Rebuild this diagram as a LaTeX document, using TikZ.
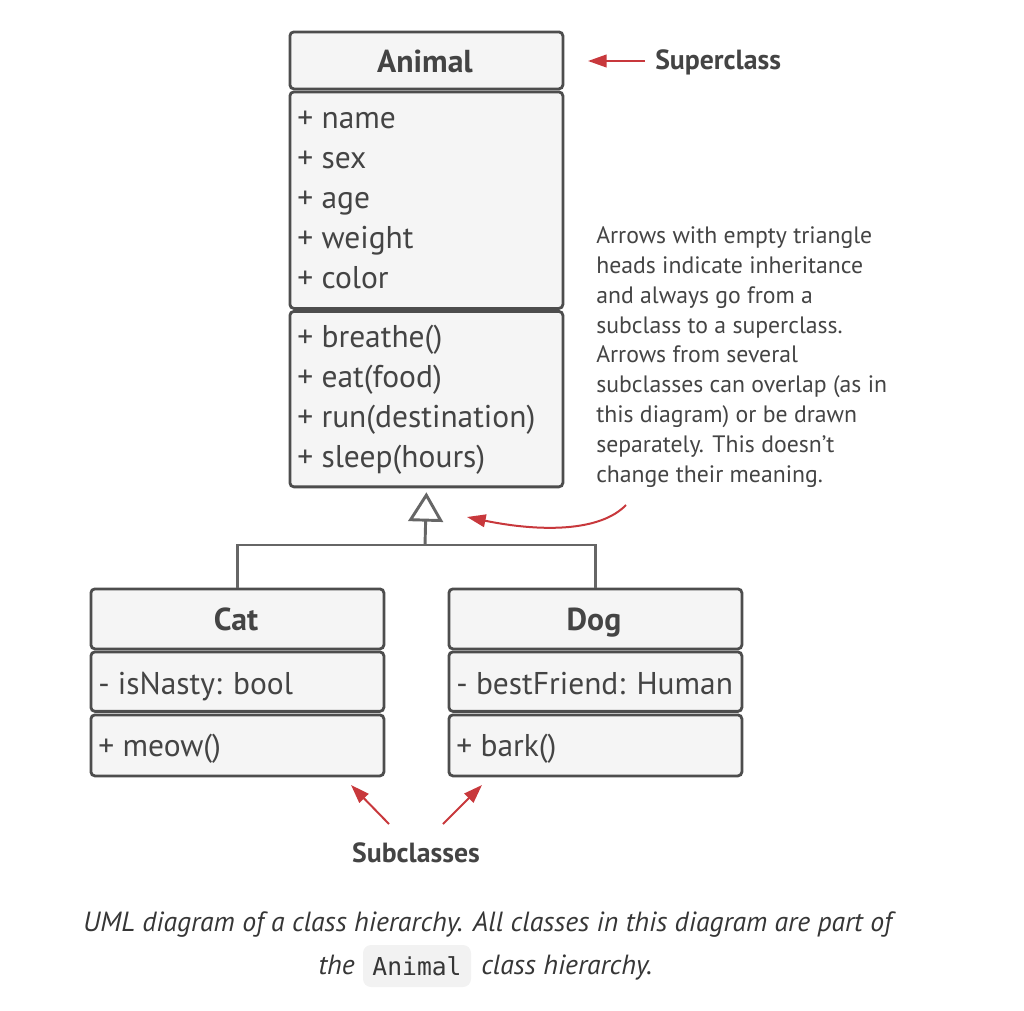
\documentclass[tikz,border=0pt]{standalone}
\usepackage{fontspec}
\setmainfont{PT Sans}
\setmonofont{DejaVu Sans Mono}
\usetikzlibrary{arrows.meta}
\definecolor{boxline}{HTML}{4D4D4D}
\definecolor{boxfill}{HTML}{F5F5F5}
\definecolor{txt}{HTML}{444444}
\definecolor{conn}{HTML}{666666}
\definecolor{redarrow}{HTML}{C8383C}
\definecolor{codebg}{HTML}{F2F2F2}
\definecolor{captxt}{HTML}{363636}
\begin{document}
\begin{tikzpicture}[x=0.75pt,y=-0.75pt,
  compart/.style={draw=boxline, fill=boxfill, line width=2.1pt, rounded corners=3pt, anchor=north west, inner sep=0pt},
  member/.style={font=\fontsize{23.6}{30}\selectfont, text=txt, inner sep=0pt, anchor=base west},
  clstitle/.style={font=\fontsize{23.8}{30}\selectfont\bfseries, text=txt, inner sep=0pt, anchor=base},
  lbl/.style={font=\fontsize{20.8}{24}\selectfont\bfseries, text=txt, inner sep=0pt},
  notetxt/.style={font=\fontsize{17.8}{22.35}\selectfont, text=txt, inner sep=0pt, align=left, anchor=base west},
  captext/.style={font=\fontsize{20.8}{24}\selectfont\itshape, text=captxt, inner sep=0pt},
  connline/.style={draw=conn, line width=2.2pt},
  redarr/.style={draw=redarrow, line width=1.5pt, -{Triangle[length=14pt, width=9.5pt]}}
]
\useasboundingbox (0,0) rectangle (1024,1010);

% ---- Animal
\node[compart, minimum width=204.75pt, minimum height=42.75pt] (animalHead) at (288.5,30.5) {};
\node[compart, minimum width=204.75pt, minimum height=162.4pt] (animalAttr) at (288.5,90.5) {};
\node[compart, minimum width=204.75pt, minimum height=131.6pt] (animalOps) at (288.5,310) {};
\node[clstitle] (animalName) at (425,72) {Animal};
\node[member] (aName) at (297,128) {+ name};
\node[member] (aSex) at (297,168) {+ sex};
\node[member] (aAge) at (297,208) {+ age};
\node[member] (aWeight) at (297,248) {+ weight};
\node[member] (aColor) at (297,288) {+ color};
\node[member] (aBreathe) at (297,347) {+ breathe()};
\node[member] (aEat) at (297,387) {+ eat(food)};
\node[member] (aRun) at (297,427) {+ run(destination)};
\node[member] (aSleep) at (297,467) {+ sleep(hours)};

% ---- Cat
\node[compart, minimum width=219.75pt, minimum height=45pt] (catHead) at (89.5,587.5) {};
\node[compart, minimum width=219.75pt, minimum height=44.6pt] (catAttr) at (89.5,650.5) {};
\node[compart, minimum width=219.75pt, minimum height=45.75pt] (catOps) at (89.5,713.5) {};
\node[clstitle] (catName) at (236,630) {Cat};
\node[member] (cNasty) at (98,694) {- isNasty: bool};
\node[member] (cMeow) at (98,756) {+ meow()};

% ---- Dog
\node[compart, minimum width=219.75pt, minimum height=45pt] (dogHead) at (447.5,587.5) {};
\node[compart, minimum width=219.75pt, minimum height=44.6pt] (dogAttr) at (447.5,650.5) {};
\node[compart, minimum width=219.75pt, minimum height=45.75pt] (dogOps) at (447.5,713.5) {};
\node[clstitle] (dogName) at (594,630) {Dog};
\node[member] (dFriend) at (456,694) {- bestFriend: Human};
\node[member] (dBark) at (456,756) {+ bark()};

% ---- inheritance
\coordinate (junction) at (425,545);
\draw[connline] (catHead.north) |- (junction) -| (dogHead.north);
\draw[connline, -{Triangle[open, length=22pt, width=26pt]}] (junction) -- ([yshift=-3pt]animalOps.south);

% ---- Superclass label
\node[lbl, anchor=base west] (superLbl) at (655,69) {Superclass};
\coordinate (supStart) at (645,61);
\coordinate (supEnd) at (588,61);
\draw[redarr] (supStart) -- (supEnd);

% ---- note (base anchor = last line)
\node[notetxt] (note) at (596,482) {Arrows with empty triangle\\heads indicate inheritance\\and always go from a\\subclass to a superclass.\\Arrows from several\\subclasses can overlap (as in\\this diagram) or be drawn\\separately. This doesn’t\\change their meaning.};
\coordinate (noteStart) at (626,505);
\coordinate (noteEnd) at (467,517);
\draw[redarr] (noteStart) .. controls (600,532) and (540,532) .. (noteEnd);

% ---- Subclasses label
\node[lbl, anchor=base] (subLbl) at (416,862) {Subclasses};
\coordinate (subL) at (389,824);
\coordinate (subR) at (443,824);
\coordinate (tipL) at (351,785);
\coordinate (tipR) at (482,785);
\draw[redarr] (subL) -- (tipL);
\draw[redarr] (subR) -- (tipR);

% ---- caption
\node[captext, anchor=base] (cap1) at (487.5,931) {UML diagram of a class hierarchy. All classes in this diagram are part of};
\node[fill=codebg, rounded corners=6pt, minimum width=81pt, minimum height=31.5pt, inner sep=0pt, font=\fontsize{18.5}{20}\selectfont\ttfamily, text=captxt] (code) at (417,966) {Animal};
\node[captext, anchor=base east] (capThe) at (355,974) {the};
\node[captext, anchor=base west] (capRest) at (481,974) {class hierarchy.};
\end{tikzpicture}
\end{document}
